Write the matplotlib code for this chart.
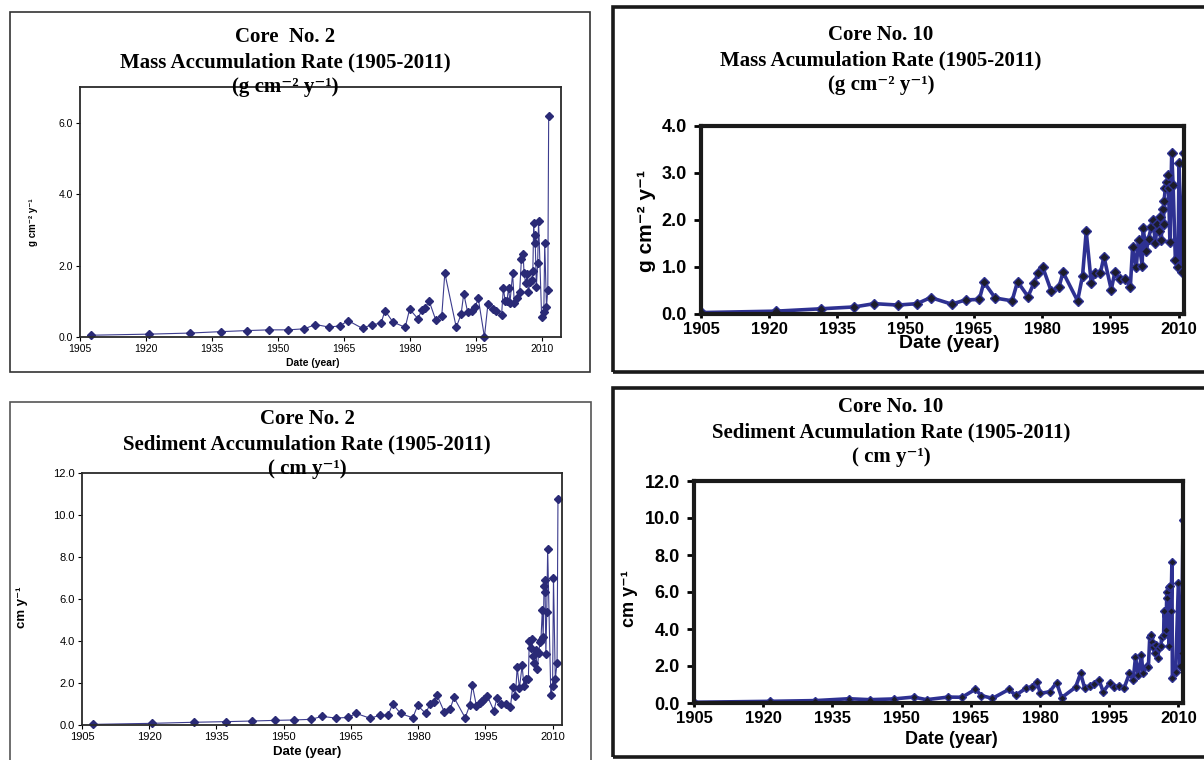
import matplotlib
matplotlib.use('Agg')
import matplotlib.pyplot as plt
import numpy as np
from matplotlib.patches import Rectangle

plt.rcParams['font.family'] = ['Liberation Sans', 'DejaVu Sans']

W, H = 1204, 760

year_ticks = [1905, 1920, 1935, 1950, 1965, 1980, 1995, 2010]

# Core 2 - mass accumulation rate (g cm-2 y-1)
core2_mar_year = [1907.5, 1920.7, 1929.9, 1937.0, 1943.0, 1947.9, 1952.3, 1956.0, 1958.5, 1961.5,
                  1964.1, 1965.9, 1969.2, 1971.3, 1973.4, 1974.3, 1976.1, 1978.9, 1979.9, 1981.8,
                  1982.7, 1983.5, 1984.3, 1985.8, 1987.2, 1987.9, 1990.5, 1991.6, 1992.2, 1993.1,
                  1994.0, 1994.8, 1995.5, 1996.9, 1997.7, 1998.8, 1999.6, 2000.8, 2001.2, 2001.6,
                  2002.0, 2002.4, 2002.7, 2003.3, 2003.7, 2004.3, 2004.9, 2005.3, 2005.7, 2005.9,
                  2006.3, 2006.6, 2006.9, 2007.3, 2007.7, 2007.9, 2008.1, 2008.3, 2008.4, 2008.7,
                  2009.0, 2009.2, 2009.9, 2010.4, 2010.6, 2011.0, 2011.3, 2011.5]
core2_mar = [0.05, 0.08, 0.11, 0.15, 0.18, 0.20, 0.20, 0.23, 0.35, 0.28,
             0.31, 0.46, 0.24, 0.35, 0.38, 0.74, 0.42, 0.27, 0.78, 0.51,
             0.77, 0.81, 1.02, 0.49, 0.58, 1.79, 0.27, 0.64, 1.21, 0.69,
             0.72, 0.85, 1.08, 0.00, 0.93, 0.79, 0.74, 0.62, 1.37, 1.02,
             1.00, 1.38, 0.95, 1.78, 0.95, 1.10, 1.25, 2.18, 2.33, 1.78,
             1.50, 1.76, 1.27, 1.54, 1.60, 1.86, 3.20, 2.63, 2.87, 1.40,
             2.08, 3.26, 0.56, 0.71, 2.63, 0.84, 1.33, 6.20]

# Core 2 - sediment accumulation rate (cm y-1)
core2_sar_year = [1907.5, 1920.7, 1930.0, 1937.2, 1943.0, 1948.0, 1952.3, 1956.1, 1958.6, 1961.6,
                  1964.3, 1966.2, 1969.3, 1971.4, 1973.3, 1974.3, 1976.1, 1978.8, 1979.9, 1981.7,
                  1982.6, 1983.5, 1984.2, 1985.8, 1987.1, 1988.0, 1990.5, 1991.5, 1992.1, 1993.0,
                  1993.7, 1994.3, 1994.8, 1995.4, 1996.9, 1997.6, 1998.6, 1999.7, 2000.6, 2001.1,
                  2001.7, 2002.1, 2002.6, 2003.2, 2003.6, 2004.1, 2004.6, 2004.8, 2005.1, 2005.4,
                  2005.7, 2005.9, 2006.2, 2006.6, 2006.9, 2007.2, 2007.4, 2007.7, 2007.9, 2008.1,
                  2008.2, 2008.3, 2008.5, 2008.7, 2008.9, 2009.6, 2010.0, 2010.2, 2010.6, 2011.0,
                  2011.2]
core2_sar = [0.03, 0.08, 0.13, 0.16, 0.19, 0.22, 0.24, 0.27, 0.41, 0.33,
             0.36, 0.55, 0.32, 0.46, 0.46, 1.00, 0.55, 0.34, 0.93, 0.55,
             0.98, 1.08, 1.42, 0.64, 0.74, 1.31, 0.34, 0.94, 1.89, 0.92,
             1.03, 1.14, 1.26, 1.40, 0.68, 1.30, 1.02, 1.02, 0.88, 1.80,
             1.37, 2.76, 1.75, 2.84, 1.87, 2.20, 2.20, 4.02, 3.67, 4.10,
             3.30, 2.97, 3.55, 2.65, 3.45, 3.95, 4.05, 5.47, 4.20, 6.62,
             6.33, 6.92, 3.37, 5.40, 8.37, 1.45, 1.88, 7.00, 2.18, 2.97,
             10.77]

# Core 10 - mass accumulation rate (g cm-2 y-1)
core10_mar_year = [1905.2, 1921.5, 1931.3, 1938.7, 1943.1, 1948.3, 1952.5, 1955.5, 1960.1, 1963.2,
                   1966.2, 1967.2, 1969.7, 1973.4, 1974.6, 1976.9, 1978.2, 1979.2, 1980.1, 1982.0,
                   1983.7, 1984.6, 1987.8, 1988.9, 1989.7, 1990.8, 1991.7, 1992.8, 1993.6, 1995.2,
                   1996.0, 1997.1, 1998.3, 1999.4, 1999.9, 2000.7, 2001.2, 2002.0, 2002.2, 2002.9,
                   2003.4, 2004.0, 2004.4, 2004.9, 2005.3, 2005.6, 2005.9, 2006.2, 2006.5, 2006.7,
                   2006.8, 2007.1, 2007.5, 2007.7, 2007.8, 2008.1, 2008.5, 2008.8, 2009.3, 2009.9,
                   2010.1, 2010.7, 2011.3]
core10_mar = [0.02, 0.05, 0.10, 0.14, 0.21, 0.18, 0.21, 0.34, 0.20, 0.29,
              0.30, 0.67, 0.33, 0.27, 0.68, 0.36, 0.65, 0.87, 1.00, 0.48,
              0.56, 0.88, 0.27, 0.81, 1.75, 0.66, 0.86, 0.86, 1.21, 0.51,
              0.88, 0.73, 0.73, 0.57, 1.41, 0.99, 1.57, 1.02, 1.83, 1.33,
              1.60, 1.84, 2.00, 1.50, 1.90, 1.75, 2.05, 1.57, 2.22, 1.92,
              2.39, 2.67, 2.81, 2.95, 2.67, 1.53, 3.42, 2.75, 1.15, 1.00,
              3.22, 0.88, 3.42]

# Core 10 - sediment accumulation rate (cm y-1)
core10_sar_year = [1905.1, 1921.4, 1931.3, 1938.6, 1943.1, 1948.3, 1952.6, 1955.4, 1960.1, 1963.1,
                   1966.0, 1967.3, 1969.7, 1973.3, 1974.7, 1976.9, 1978.2, 1979.3, 1980.1, 1982.1,
                   1983.6, 1984.7, 1987.7, 1988.8, 1989.7, 1990.8, 1991.7, 1992.8, 1993.7, 1995.2,
                   1996.0, 1997.2, 1998.2, 1999.4, 2000.2, 2000.7, 2001.3, 2002.0, 2002.3, 2003.1,
                   2003.5, 2003.8, 2004.1, 2004.3, 2004.6, 2004.9, 2005.1, 2005.5, 2005.8, 2006.2,
                   2006.4, 2006.8, 2006.9, 2007.3, 2007.5, 2007.6, 2007.9, 2008.0, 2008.2, 2008.4,
                   2008.6, 2008.7, 2009.4, 2010.0, 2010.3, 2010.7, 2011.0]
core10_sar = [0.04, 0.09, 0.13, 0.23, 0.18, 0.22, 0.32, 0.18, 0.32, 0.31,
              0.74, 0.40, 0.25, 0.74, 0.41, 0.79, 0.88, 1.15, 0.52, 0.61,
              1.10, 0.29, 0.85, 1.60, 0.80, 0.94, 1.03, 1.24, 0.61, 1.10,
              0.88, 0.92, 0.79, 1.60, 1.24, 2.47, 1.51, 2.59, 1.64, 2.00,
              1.96, 3.59, 3.68, 3.32, 3.05, 2.68, 3.14, 2.42, 3.00, 3.08,
              3.58, 3.68, 4.97, 3.95, 5.98, 5.66, 6.29, 3.08, 6.34, 4.97,
              7.64, 1.33, 1.69, 6.47, 2.00, 2.72, 9.90]

MAR_UNIT = '(g cm\u207b\u00b2 y\u207b\u00b9)'
SAR_UNIT = '( cm y\u207b\u00b9)'
SERIF = ['Liberation Serif', 'DejaVu Serif']


def fx(px):
    return px / W


def fy(py):
    return 1 - py / H


def add_axes_px(fig, left, top, right, bottom):
    return fig.add_axes([left / W, 1 - bottom / H, (right - left) / W, (bottom - top) / H])


def panel_box(fig, left, top, right, bottom, lw, color):
    fig.add_artist(Rectangle((fx(left), fy(bottom)), (right - left) / W, (bottom - top) / H,
                             transform=fig.transFigure, fill=False, lw=lw, ec=color))


def titles(fig, cx, y0, lines):
    for i, s in enumerate(lines):
        fig.text(fx(cx), fy(y0 + 25 * i), s, ha='center', va='center', fontsize=15,
                 fontweight='bold', family=SERIF)


def thin_panel(ax, x, y, xmax, ymax, ystep, ysize):
    ax.plot(x, y, color='#3c3c8e', lw=0.8, marker='D', ms=4,
            mfc='#2a2a76', mec='#2a2a76', clip_on=False)
    ax.set_xlim(1905, xmax)
    ax.set_ylim(0, ymax)
    ax.set_xticks(year_ticks)
    ax.set_yticks(np.arange(0, ymax + 0.01, ystep))
    ax.yaxis.set_major_formatter('{x:.1f}')
    for sp in ax.spines.values():
        sp.set_linewidth(1.3)
        sp.set_color('#2a2a2a')
    ax.tick_params(direction='out', length=3, width=0.8, labelsize=ysize, pad=2)


def thick_panel(ax, x, y, xmax, ymax, ystep, ms):
    ax.plot(x, y, color='#2e3192', lw=2.6, marker='D', ms=ms,
            mfc='#1c1c2c', mec='#2e3192', mew=1.0)
    ax.set_xlim(1905, xmax)
    ax.set_ylim(0, ymax)
    ax.set_xticks(year_ticks)
    ax.set_yticks(np.arange(0, ymax + 0.01, ystep))
    ax.yaxis.set_major_formatter('{x:.1f}')
    for sp in ax.spines.values():
        sp.set_linewidth(3.0)
        sp.set_color('#1a1a1a')
    ax.tick_params(axis='y', direction='out', length=5, width=2, labelsize=13, pad=5)
    ax.tick_params(axis='x', direction='out', length=3, width=2, labelsize=12, pad=3)
    for lab in ax.get_xticklabels() + ax.get_yticklabels():
        lab.set_fontweight('bold')


fig = plt.figure(figsize=(W / 100, H / 100), dpi=100)

# panel frames
panel_box(fig, 10, 12, 590, 372, 1.2, '#333333')
panel_box(fig, 613, 7, 1215, 372, 2.6, '#1a1a1a')
panel_box(fig, 10, 402, 591, 775, 1.2, '#555555')
panel_box(fig, 613, 388, 1215, 757, 2.6, '#1a1a1a')

# Core 2 MAR
ax1 = add_axes_px(fig, 80, 87, 561, 337)
thin_panel(ax1, core2_mar_year, core2_mar, 2014.3, 7, 2, 7.5)
titles(fig, 285, 37, ['Core  No. 2', 'Mass Accumulation Rate (1905-2011)', MAR_UNIT])
fig.text(fx(313), fy(363), 'Date (year)', ha='center', va='center', fontsize=7.5, fontweight='bold')
fig.text(fx(33), fy(222), 'g cm\u207b\u00b2 y\u207b\u00b9', rotation=90,
         ha='center', va='center', fontsize=7, fontweight='bold')

# Core 10 MAR
ax2 = add_axes_px(fig, 701, 126, 1184, 313.5)
thick_panel(ax2, core10_mar_year, core10_mar, 2011.2, 4, 1, 5)
titles(fig, 881, 35, ['Core No. 10', 'Mass Acumulation Rate (1905-2011)', MAR_UNIT])
fig.text(fx(949), fy(343), 'Date (year)', ha='center', va='center', fontsize=14, fontweight='bold')
fig.text(fx(646), fy(221), 'g cm\u207b\u00b2 y\u207b\u00b9', rotation=90,
         ha='center', va='center', fontsize=15, fontweight='bold')

# Core 2 SAR
ax3 = add_axes_px(fig, 82, 473, 562, 725)
thin_panel(ax3, core2_sar_year, core2_sar, 2012.1, 12, 2, 8)
titles(fig, 307, 419, ['Core No. 2', 'Sediment Accumulation Rate (1905-2011)', SAR_UNIT])
fig.text(fx(307), fy(752), 'Date (year)', ha='center', va='center', fontsize=9.5, fontweight='bold')
fig.text(fx(22), fy(607), 'cm y\u207b\u00b9', rotation=90,
         ha='center', va='center', fontsize=9.5, fontweight='bold')

# Core 10 SAR
ax4 = add_axes_px(fig, 694, 481, 1183, 703)
thick_panel(ax4, core10_sar_year, core10_sar, 2011.0, 12, 2, 4.2)
titles(fig, 891, 407, ['Core No. 10', 'Sediment Acumulation Rate (1905-2011)', SAR_UNIT])
fig.text(fx(951), fy(739), 'Date (year)', ha='center', va='center', fontsize=13, fontweight='bold')
fig.text(fx(630), fy(599), 'cm y\u207b\u00b9', rotation=90,
         ha='center', va='center', fontsize=13, fontweight='bold')

fig.savefig('out.png', dpi=100)
